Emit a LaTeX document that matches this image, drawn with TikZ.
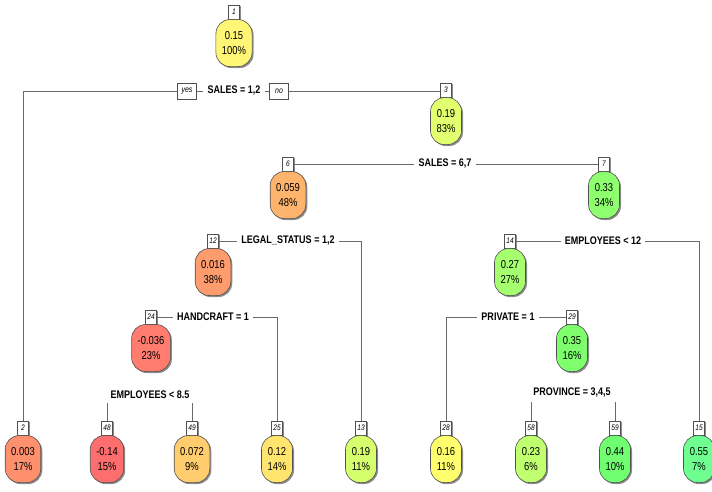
\documentclass[tikz,border=0pt]{standalone}
\usepackage{fontspec}
\setmainfont{Liberation Sans}[FakeStretch=0.82]
\usepackage{xcolor}
\definecolor{linegray}{HTML}{6A6A6A}
\definecolor{boxgray}{HTML}{505050}
\definecolor{fillA}{HTML}{FFF676}
\definecolor{fillB}{HTML}{E2FF70}
\definecolor{fillC}{HTML}{FFB46E}
\definecolor{fillD}{HTML}{8EFF6E}
\definecolor{fillE}{HTML}{FF9C6E}
\definecolor{fillF}{HTML}{A6FF6E}
\definecolor{fillG}{HTML}{FF7C6E}
\definecolor{fillH}{HTML}{80FF6E}
\definecolor{fillI}{HTML}{FF906E}
\definecolor{fillJ}{HTML}{FF6E6E}
\definecolor{fillK}{HTML}{FFCC6E}
\definecolor{fillL}{HTML}{FFE46E}
\definecolor{fillM}{HTML}{D6FF6E}
\definecolor{fillN}{HTML}{FFFF6E}
\definecolor{fillO}{HTML}{C0FF6E}
\definecolor{fillP}{HTML}{70FF70}
\definecolor{fillQ}{HTML}{6EFF90}
\usepackage{tikz}
\usetikzlibrary{positioning, shadows}

\begin{document}
\begin{tikzpicture}[x=1pt, y=-1pt,
  nodebox/.style={draw=boxgray, line width=0.6pt, rounded corners=14pt,
    minimum height=47pt, minimum width=31pt, inner xsep=6pt, align=center,
    font=\fontsize{11.5}{15}\selectfont,
    drop shadow={shadow xshift=1.5pt, shadow yshift=-1.5pt, fill=black!45, opacity=1}},
  numtag/.style={draw=boxgray, fill=white, line width=0.5pt,
    font=\fontsize{8}{9}\selectfont\itshape, inner sep=1.5pt,
    minimum width=11pt, minimum height=14pt,
    drop shadow={shadow xshift=1pt, shadow yshift=-1pt, fill=black!45, opacity=1}},
  splittext/.style={font=\fontsize{11}{12}\selectfont\bfseries, inner sep=4pt},
  answer/.style={draw=boxgray, fill=white, line width=0.5pt,
    font=\fontsize{8.5}{9}\selectfont\itshape, inner sep=1pt,
    minimum width=19pt, minimum height=16pt},
  branch/.style={draw=linegray, line width=0.9pt}]
  \useasboundingbox (0,0) rectangle (712,491);

  % --- Root and first split ---
  \node[numtag] (t1) at (234,12) {1};
  \node[nodebox, fill=fillA, below=0pt of t1] (n1) {0.15\\100\%};
  \node[splittext] (s1) at (234,91) {SALES = 1,2};
  \node[answer] (yes) at (187,91) {yes};
  \node[answer] (no) at (279,91) {no};

  % --- Second level ---
  \node[numtag] (t3) at (446,90) {3};
  \node[nodebox, fill=fillB, below=0pt of t3] (n3) {0.19\\83\%};
  \node[splittext] (s3) at (445,164) {SALES = 6,7};

  \node[numtag] (t6) at (288,164) {6};
  \node[nodebox, fill=fillC, below=0pt of t6] (n6) {0.059\\48\%};
  \node[numtag] (t7) at (604,164) {7};
  \node[nodebox, fill=fillD, below=0pt of t7] (n7) {0.33\\34\%};

  % --- Third level ---
  \node[numtag] (t12) at (213,241) {12};
  \node[nodebox, fill=fillE, below=0pt of t12] (n12) {0.016\\38\%};
  \node[splittext] (s6) at (288,241) {LEGAL\_STATUS = 1,2};
  \node[numtag] (t14) at (510,241) {14};
  \node[nodebox, fill=fillF, below=0pt of t14] (n14) {0.27\\27\%};
  \node[splittext] (s7) at (603,241) {EMPLOYEES < 12};

  % --- Fourth level ---
  \node[numtag] (t24) at (151,317) {24};
  \node[nodebox, fill=fillG, below=0pt of t24] (n24) {-0.036\\23\%};
  \node[splittext] (s12) at (213,317) {HANDCRAFT = 1};
  \node[numtag] (t29) at (572,317) {29};
  \node[nodebox, fill=fillH, below=0pt of t29] (n29) {0.35\\16\%};
  \node[splittext] (s14) at (508,317) {PRIVATE = 1};

  \node[splittext] (s24) at (150,395) {EMPLOYEES < 8.5};
  \node[splittext] (s29) at (572,393) {PROVINCE = 3,4,5};

  % --- Leaves ---
  \node[numtag] (t2) at (23,428) {2};
  \node[nodebox, fill=fillI, below=0pt of t2] (n2) {0.003\\17\%};
  \node[numtag] (t48) at (107,428) {48};
  \node[nodebox, fill=fillJ, below=0pt of t48] (n48) {-0.14\\15\%};
  \node[numtag] (t49) at (192,428) {49};
  \node[nodebox, fill=fillK, below=0pt of t49] (n49) {0.072\\9\%};
  \node[numtag] (t25) at (277,428) {25};
  \node[nodebox, fill=fillL, below=0pt of t25] (n25) {0.12\\14\%};
  \node[numtag] (t13) at (361,428) {13};
  \node[nodebox, fill=fillM, below=0pt of t13] (n13) {0.19\\11\%};
  \node[numtag] (t28) at (446,428) {28};
  \node[nodebox, fill=fillN, below=0pt of t28] (n28) {0.16\\11\%};
  \node[numtag] (t58) at (531,428) {58};
  \node[nodebox, fill=fillO, below=0pt of t58] (n58) {0.23\\6\%};
  \node[numtag] (t59) at (615,428) {59};
  \node[nodebox, fill=fillP, below=0pt of t59] (n59) {0.44\\10\%};
  \node[numtag] (t15) at (699,428) {15};
  \node[nodebox, fill=fillQ, below=0pt of t15] (n15) {0.55\\7\%};

  % --- Branches ---
  \draw[branch] (t2) |- (yes);
  \draw[branch] (yes) -- (s1) -- (no) -- (no -| t3.west);
  \draw[branch] (t6) -- (s3) -- (t7);
  \draw[branch] (t12) -- (s6) -| (t13);
  \draw[branch] (t14) -- (s7) -| (t15);
  \draw[branch] (t24) -- (s12) -| (t25);
  \draw[branch] (t29) -- (s14) -| (t28);
  \draw[branch] (s24.south -| t48) -- (t48);
  \draw[branch] (s24.south -| t49) -- (t49);
  \draw[branch] (s29.south -| t58) -- (t58);
  \draw[branch] (s29.south -| t59) -- (t59);
\end{tikzpicture}
\end{document}
